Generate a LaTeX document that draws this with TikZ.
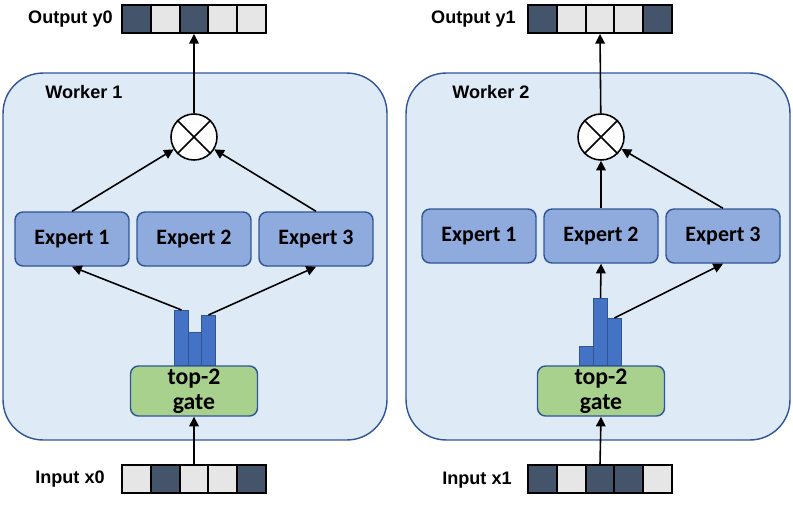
\documentclass[tikz,border=0pt]{standalone}
\usepackage{fontspec}
\setmainfont{Liberation Sans}
\newfontfamily\calibri{Carlito}
\usetikzlibrary{arrows.meta}
\definecolor{wfill}{RGB}{222,234,246}
\definecolor{wline}{RGB}{47,85,151}
\definecolor{expfill}{RGB}{143,170,220}
\definecolor{gatefill}{RGB}{169,209,142}
\definecolor{barfill}{RGB}{68,114,196}
\definecolor{cdark}{RGB}{68,84,106}
\definecolor{clight}{RGB}{231,230,230}

\begin{document}
\begin{tikzpicture}[x=0.02cm,y=-0.02cm,
  worker/.style={draw=wline,fill=wfill,line width=0.8pt,rounded corners=0.8cm,
    minimum width=7.68cm,minimum height=7.34cm},
  expert/.style={draw=wline,fill=expfill,line width=0.8pt,rounded corners=0.16cm,
    minimum width=2.28cm,minimum height=1.08cm,
    font=\calibri\bfseries\fontsize{12.5}{14}\selectfont},
  gatebox/.style={draw=wline,fill=gatefill,line width=0.8pt,rounded corners=0.16cm,
    minimum width=2.54cm,minimum height=1cm,inner sep=0pt,align=center,
    font=\calibri\bfseries\fontsize{13.5}{14.5}\selectfont},
  bar/.style={draw=wline,fill=barfill,line width=0.6pt,minimum width=0.28cm,
    inner sep=0pt,anchor=south west},
  cell/.style={draw=black,line width=1.1pt,minimum width=0.576cm,
    minimum height=0.56cm,inner sep=0pt},
  mul/.style={circle,draw,fill=white,line width=0.9pt,minimum size=0.92cm,inner sep=0pt},
  lbl/.style={inner sep=0pt,font=\bfseries\fontsize{10.3}{12}\selectfont},
  arr/.style={-{Triangle[length=5.5pt,width=5.5pt]},line width=0.9pt}]
  \useasboundingbox (0,0) rectangle (793,504);

  % workers: number / centre / box centre / expert row / routed expert
  \foreach \w/\cx/\bx/\ey/\a in {1/194/195/239/1, 2/601/598/236/2}{
    \node[worker] (w\w) at (\bx,256.5) {};
    \node[lbl,anchor=west] (w\w-name) at (\cx-149,92) {Worker \w};
    \node[mul] (w\w-mul) at (\cx,137) {};
    \draw[line width=0.9pt] (w\w-mul.north west) -- (w\w-mul.south east)
      (w\w-mul.north east) -- (w\w-mul.south west);
    \foreach \e/\dx in {1/-122, 2/0, 3/122}
      \node[expert] (w\w-e\e) at (\cx+\dx,\ey) {Expert \e};
  }

  % gate scores
  \foreach \w/\i/\x/\h in {1/1/174/1.1, 1/2/188/0.66, 1/3/201/1.0,
    2/1/579/0.38, 2/2/593/1.34, 2/3/607/0.94}
    \node[bar,minimum height=\h cm] (w\w-bar\i) at (\x,366) {};
  \node[gatebox] (w1-gate) at (194,391) {top-2\\gate};
  \node[gatebox] (w2-gate) at (601,391) {top-2\\gate};

  % token vectors
  \foreach \v/\cx/\y/\cols in {
    w1-out/194/19/{cdark,clight,cdark,clight,clight},
    w2-out/600/19/{cdark,clight,clight,clight,cdark},
    w1-in/194/479/{clight,cdark,clight,clight,cdark},
    w2-in/600/479/{cdark,clight,cdark,cdark,clight}}{
    \foreach \c [count=\i] in \cols
      \node[cell,fill=\c] (\v\i) at ({\cx+(\i-3)*28.8},\y) {};
  }
  \node[lbl,anchor=east] (w1-outname) at (113,19) {Output y0};
  \node[lbl,anchor=east] (w2-outname) at (516,19) {Output y1};
  \node[lbl,anchor=east] (w1-inname) at (105,479) {Input x0};
  \node[lbl,anchor=east] (w2-inname) at (512,480) {Input x1};

  % connectors
  \foreach \w/\a in {1/1, 2/2}{
    \draw[arr] (w\w-in3.north) -- (w\w-gate.south);
    \draw[arr] (w\w-bar\a.north) -- (w\w-e\a.south);
    \draw[arr] (w\w-bar3.north) -- (w\w-e3.south);
    \draw[arr] (w\w-e\a.north) -- (w\w-mul);
    \draw[arr] (w\w-e3.north) -- (w\w-mul);
    \draw[arr] (w\w-mul) -- (w\w-out3.south);
  }
\end{tikzpicture}
\end{document}
